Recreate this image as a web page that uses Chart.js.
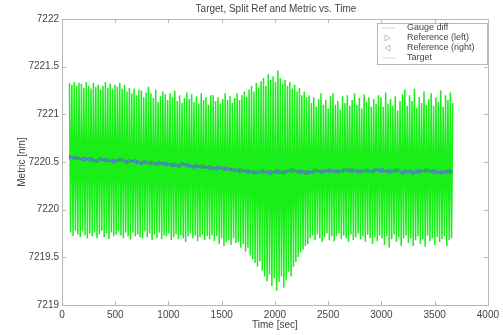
<!DOCTYPE html>
<html>
<head>
<meta charset="utf-8">
<script src="https://cdn.jsdelivr.net/npm/chart.js@4.4.1/dist/chart.umd.min.js"></script>
<style>
  body { margin: 0; background: #fff; }
  canvas { display: block; }
</style>
</head>
<body>
<canvas id="myChart" width="503" height="335"></canvas>
<script>
// gauge signal, alternating peak / trough samples
var sampleStart = 70;
var sampleStep = 11.25;
var gaugeDiff = [
  7221.33, 7219.76, 7221.31, 7219.72, 7221.34, 7219.78, 7221.30, 7219.74, 7221.33, 7219.71, 7221.32, 7219.77, 7221.28, 7219.73, 7221.34, 7219.70, 7221.30, 7219.75, 7221.27, 7219.72,
  7221.33, 7219.76, 7221.29, 7219.70, 7221.31, 7219.74, 7221.26, 7219.78, 7221.30, 7219.71, 7221.34, 7219.75, 7221.28, 7219.69, 7221.32, 7219.76, 7221.27, 7219.72, 7221.31, 7219.74,
  7221.29, 7219.77, 7221.33, 7219.73, 7221.27, 7219.70, 7221.31, 7219.76, 7221.24, 7219.72, 7221.28, 7219.69, 7221.22, 7219.76, 7221.27, 7219.72, 7221.20, 7219.74, 7221.26, 7219.71,
  7221.25, 7219.70, 7221.18, 7219.77, 7221.23, 7219.71, 7221.29, 7219.75, 7221.22, 7219.68, 7221.17, 7219.74, 7221.26, 7219.70, 7221.13, 7219.76, 7221.19, 7219.69, 7221.24, 7219.73,
  7221.21, 7219.72, 7221.15, 7219.75, 7221.22, 7219.68, 7221.18, 7219.71, 7221.25, 7219.74, 7221.14, 7219.69, 7221.20, 7219.73, 7221.12, 7219.70, 7221.17, 7219.66, 7221.23, 7219.72,
  7221.16, 7219.75, 7221.21, 7219.70, 7221.13, 7219.73, 7221.19, 7219.67, 7221.11, 7219.71, 7221.22, 7219.74, 7221.15, 7219.68, 7221.18, 7219.72, 7221.10, 7219.69, 7221.20, 7219.73,
  7221.20, 7219.67, 7221.14, 7219.72, 7221.18, 7219.64, 7221.11, 7219.70, 7221.16, 7219.62, 7221.22, 7219.66, 7221.15, 7219.68, 7221.19, 7219.63, 7221.12, 7219.70, 7221.17, 7219.65,
  7221.22, 7219.66, 7221.15, 7219.60, 7221.20, 7219.64, 7221.24, 7219.56, 7221.18, 7219.60, 7221.26, 7219.52, 7221.30, 7219.48, 7221.24, 7219.44, 7221.33, 7219.40, 7221.28, 7219.46,
  7221.35, 7219.36, 7221.38, 7219.30, 7221.30, 7219.25, 7221.42, 7219.32, 7221.36, 7219.20, 7221.40, 7219.28, 7221.34, 7219.15, 7221.46, 7219.24, 7221.38, 7219.30, 7221.32, 7219.18,
  7221.36, 7219.26, 7221.30, 7219.35, 7221.34, 7219.30, 7221.27, 7219.40, 7221.31, 7219.45, 7221.24, 7219.50, 7221.28, 7219.55, 7221.20, 7219.58, 7221.24, 7219.62, 7221.18, 7219.64,
  7221.20, 7219.70, 7221.12, 7219.73, 7221.18, 7219.68, 7221.08, 7219.74, 7221.16, 7219.70, 7221.22, 7219.66, 7221.10, 7219.71, 7221.15, 7219.75, 7221.06, 7219.68, 7221.19, 7219.72,
  7221.22, 7219.67, 7221.10, 7219.72, 7221.14, 7219.75, 7221.05, 7219.69, 7221.19, 7219.73, 7221.12, 7219.70, 7221.20, 7219.66, 7221.09, 7219.74, 7221.15, 7219.68, 7221.22, 7219.71,
  7221.10, 7219.75, 7221.17, 7219.69, 7221.06, 7219.72, 7221.21, 7219.66, 7221.13, 7219.74, 7221.18, 7219.70, 7221.08, 7219.64, 7221.16, 7219.71, 7221.11, 7219.67, 7221.20, 7219.73,
  7221.18, 7219.70, 7221.08, 7219.63, 7221.23, 7219.72, 7221.11, 7219.60, 7221.16, 7219.69, 7221.09, 7219.74, 7221.19, 7219.66, 7221.04, 7219.71, 7221.14, 7219.62, 7221.21, 7219.70,
  7221.26, 7219.73, 7221.09, 7219.65, 7221.20, 7219.70, 7221.14, 7219.62, 7221.27, 7219.68, 7221.07, 7219.72, 7221.18, 7219.64, 7221.12, 7219.69, 7221.24, 7219.61, 7221.10, 7219.73,
  7221.16, 7219.67, 7221.22, 7219.70, 7221.09, 7219.63, 7221.18, 7219.71, 7221.13, 7219.66, 7221.25, 7219.69, 7221.08, 7219.72, 7221.20, 7219.62, 7221.15, 7219.68, 7221.23, 7219.70,
  7221.12
];

// split reference readings
var refStep = 70;
var refLeftStart = 80;
var refRightStart = 115;
var refLeft = [
  7220.55, 7220.54, 7220.53, 7220.52, 7220.53, 7220.52, 7220.51, 7220.52, 7220.51, 7220.50,
  7220.50, 7220.49, 7220.49, 7220.48, 7220.47, 7220.48, 7220.46, 7220.46, 7220.45, 7220.44,
  7220.44, 7220.43, 7220.42, 7220.41, 7220.40, 7220.39, 7220.40, 7220.39, 7220.40, 7220.40,
  7220.41, 7220.40, 7220.39, 7220.41, 7220.40, 7220.41, 7220.40, 7220.42, 7220.41, 7220.40,
  7220.41, 7220.42, 7220.41, 7220.40, 7220.41, 7220.40, 7220.39, 7220.40, 7220.41, 7220.40,
  7220.39, 7220.40
];
var refRight = [
  7220.54, 7220.53, 7220.53, 7220.51, 7220.52, 7220.51, 7220.52, 7220.50, 7220.51, 7220.49,
  7220.49, 7220.48, 7220.48, 7220.47, 7220.46, 7220.47, 7220.45, 7220.45, 7220.44, 7220.43,
  7220.43, 7220.42, 7220.41, 7220.40, 7220.39, 7220.40, 7220.39, 7220.40, 7220.39, 7220.41,
  7220.40, 7220.39, 7220.40, 7220.40, 7220.41, 7220.40, 7220.41, 7220.41, 7220.40, 7220.41,
  7220.40, 7220.41, 7220.40, 7220.41, 7220.39, 7220.40, 7220.40, 7220.41, 7220.40, 7220.39,
  7220.40
];
var target = [];

var seriesLabels = ['Gauge diff', 'Reference (left)', 'Reference (right)', 'Target'];

function toPoints(start, step, values) {
  return values.map(function (v, i) { return { x: start + i * step, y: v }; });
}

var FONT = 'Liberation Sans, Arial, sans-serif';
var TEXT = '#444';
var AXIS = '#b8b8b8';

// matlab-like box with inward ticks on all four sides
var boxPlugin = {
  id: 'box',
  afterDatasetsDraw: function (chart) {
    var a = chart.chartArea, c = chart.ctx;
    var xs = chart.scales.x, ys = chart.scales.y;
    c.save();
    c.strokeStyle = AXIS;
    c.lineWidth = 1;
    c.strokeRect(Math.round(a.left) + 0.5, Math.round(a.top) + 0.5,
      Math.round(a.right - a.left), Math.round(a.bottom - a.top));
    c.beginPath();
    xs.ticks.forEach(function (t) {
      var px = Math.round(xs.getPixelForValue(t.value)) + 0.5;
      c.moveTo(px, a.bottom); c.lineTo(px, a.bottom - 4);
      c.moveTo(px, a.top); c.lineTo(px, a.top + 4);
    });
    ys.ticks.forEach(function (t) {
      var py = Math.round(ys.getPixelForValue(t.value)) + 0.5;
      c.moveTo(a.left, py); c.lineTo(a.left + 4, py);
      c.moveTo(a.right, py); c.lineTo(a.right - 4, py);
    });
    c.stroke();
    c.restore();
  }
};

// legend box drawn inside the plot, top right
var legendPlugin = {
  id: 'insideLegend',
  afterDraw: function (chart) {
    var c = chart.ctx;
    var x = 377, y = 23, w = 110, h = 41;
    c.save();
    c.fillStyle = '#fff';
    c.fillRect(x, y, w, h);
    c.strokeStyle = AXIS;
    c.strokeRect(x + 0.5, y + 0.5, w, h);
    c.font = '9px ' + FONT;
    c.textBaseline = 'middle';
    chart.data.datasets.forEach(function (ds, i) {
      var ry = y + 5 + i * 10;
      c.globalAlpha = 0.45;
      c.strokeStyle = ds.legendColor;
      c.fillStyle = ds.legendColor;
      if (ds.showLine === false) {
        c.beginPath();
        if (ds.pointRotation === 90) {
          c.moveTo(385, ry - 3); c.lineTo(390, ry); c.lineTo(385, ry + 3); c.closePath();
        } else {
          c.moveTo(390, ry - 3); c.lineTo(385, ry); c.lineTo(390, ry + 3); c.closePath();
        }
        c.stroke();
      } else {
        c.beginPath();
        c.moveTo(382, ry); c.lineTo(395, ry);
        c.stroke();
      }
      c.globalAlpha = 1;
      c.fillStyle = TEXT;
      c.fillText(ds.label, 407, ry);
    });
    c.restore();
  }
};

var ctx = document.getElementById('myChart');
new Chart(ctx, {
  type: 'line',
  data: {
    datasets: [
      {
        label: seriesLabels[0],
        data: toPoints(sampleStart, sampleStep, gaugeDiff),
        borderColor: 'rgb(25,238,25)',
        legendColor: '#999',
        borderWidth: 1.5,
        pointRadius: 0,
        tension: 0,
        order: 3
      },
      {
        label: seriesLabels[1],
        data: toPoints(refLeftStart, refStep, refLeft),
        showLine: false,
        pointStyle: 'triangle',
        pointRotation: 90,
        pointRadius: 2.2,
        borderWidth: 1,
        borderColor: 'rgb(70,120,210)',
        backgroundColor: 'rgba(70,120,210,0.3)',
        legendColor: '#777',
        order: 1
      },
      {
        label: seriesLabels[2],
        data: toPoints(refRightStart, refStep, refRight),
        showLine: false,
        pointStyle: 'triangle',
        pointRotation: -90,
        pointRadius: 2.2,
        borderWidth: 1,
        borderColor: 'rgb(90,110,200)',
        backgroundColor: 'rgba(90,110,200,0.3)',
        legendColor: '#777',
        order: 1
      },
      {
        label: seriesLabels[3],
        data: target,
        borderColor: 'rgb(200,200,200)',
        legendColor: '#aaa',
        borderWidth: 1,
        pointRadius: 0,
        order: 2
      }
    ]
  },
  options: {
    responsive: false,
    animation: false,
    devicePixelRatio: 1,
    layout: { padding: { top: 19, right: 11, left: 0, bottom: 0 } },
    plugins: {
      legend: { display: false },
      tooltip: { enabled: false },
      title: { display: false }
    },
    scales: {
      x: {
        type: 'linear',
        min: 0, max: 4000,
        grid: { display: false, drawTicks: false },
        border: { display: false },
        ticks: {
          stepSize: 500, color: TEXT, padding: 4,
          font: { family: FONT, size: 10 },
          maxRotation: 0,
          callback: function (v) { return String(v); }
        },
        title: {
          display: true, text: 'Time [sec]', color: TEXT,
          font: { family: FONT, size: 10 }, padding: { top: 0, bottom: 4 }
        },
        afterFit: function (s) { s.height = 30; }
      },
      y: {
        min: 7219, max: 7222,
        grid: { display: false, drawTicks: false },
        border: { display: false },
        ticks: {
          stepSize: 0.5, color: TEXT, padding: 3,
          font: { family: FONT, size: 10 },
          callback: function (v) { return String(v); }
        },
        title: {
          display: true, text: 'Metric [nm]', color: TEXT,
          font: { family: FONT, size: 10 }, padding: { top: 16, bottom: 0 }
        },
        afterFit: function (s) { s.width = 62; }
      }
    }
  },
  plugins: [boxPlugin, legendPlugin, {
    id: 'topTitle',
    afterDraw: function (chart) {
      var c = chart.ctx;
      c.save();
      c.font = '10px ' + FONT;
      c.fillStyle = TEXT;
      c.textAlign = 'center';
      c.textBaseline = 'middle';
      c.fillText('Target, Split Ref and Metric vs. Time', 276, 9);
      c.restore();
    }
  }]
});
</script>
</body>
</html>
